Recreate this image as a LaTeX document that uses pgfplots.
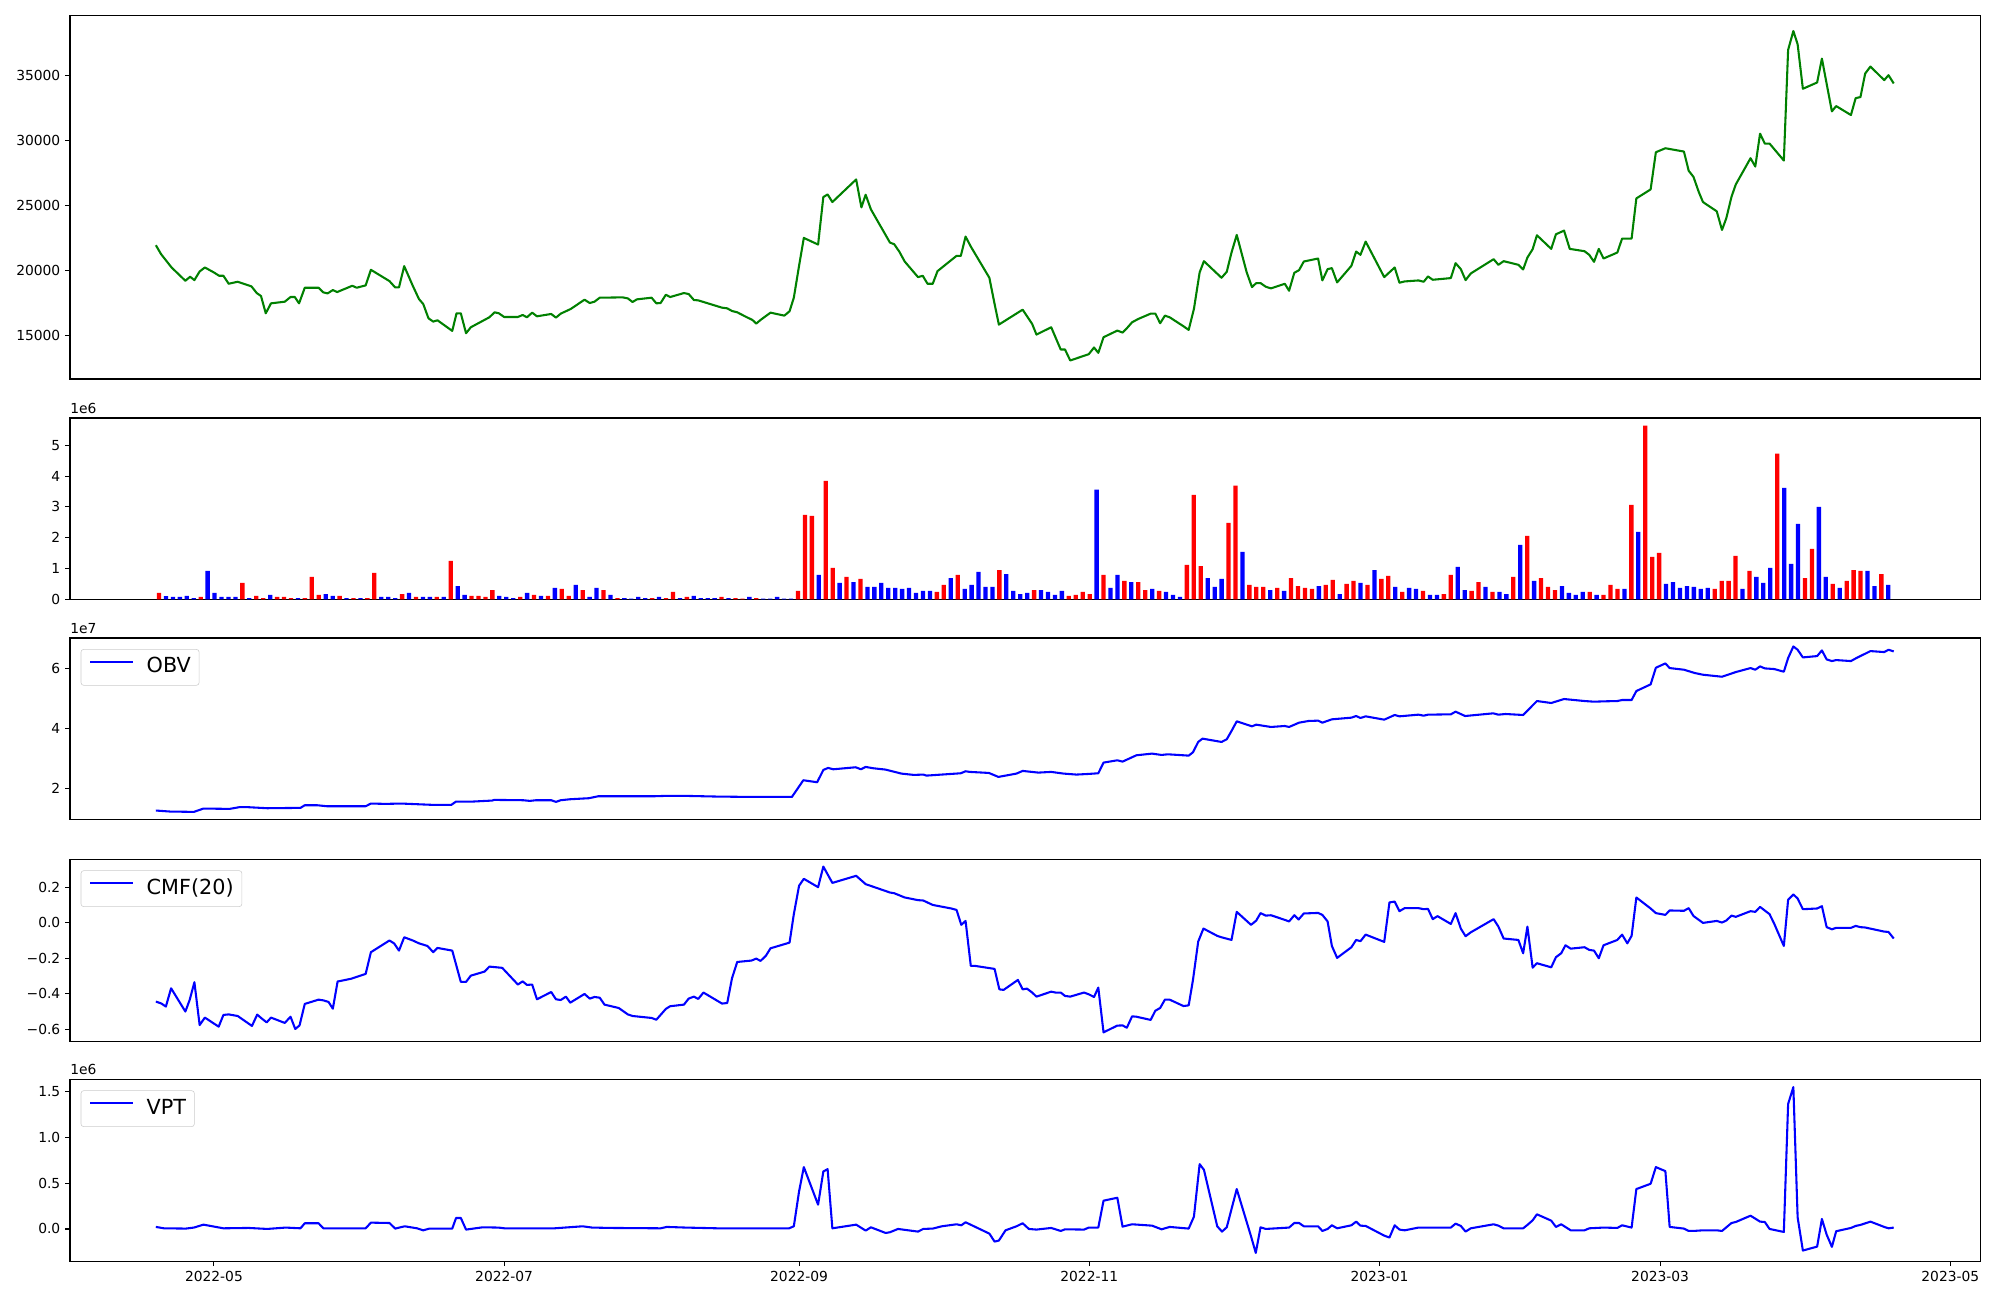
\documentclass[border=0pt]{standalone}
\usepackage{pgfplots}
\pgfplotsset{compat=1.18}
\usepackage{fontspec}
\setmainfont{DejaVu Sans}
\definecolor{mplgreen}{rgb}{0,0.502,0}
\definecolor{mplblue}{rgb}{0,0,1}
\definecolor{mplred}{rgb}{1,0,0}
\pgfplotsset{
  base/.style={
    scale only axis, width=1380.4pt,
    xmin=-30.25, xmax=371.25,
    scaled ticks=false,
    clip mode=individual,
    axis line style={line width=0.8pt},
    tick style={line width=0.8pt, black},
    major tick length=3.5pt,
    tick align=outside,
    ytick pos=left, xtick pos=left,
    /pgf/number format/assume math mode=true,
    tick label style={font=\fontsize{10}{12}\selectfont},
    xtick=\empty,
  },
  leg/.style={
    legend style={at={(rel axis cs:0.0056,0.939)}, anchor=north west,
      draw=black!20, rounded corners=2pt, fill=white, fill opacity=0.8, text opacity=1,
      font=\fontsize{15}{18}\selectfont, inner xsep=6pt, inner ysep=6pt,
      nodes={inner sep=0pt, text height=11pt, text depth=3pt},
      /tikz/every odd column/.append style={column sep=9pt}},
    legend image code/.code={\draw[##1] (0pt,4pt) -- (31pt,4pt);},
  },
}
\newcommand{\offs}[1]{\node[anchor=base west, inner sep=0pt, font=\fontsize{10}{12}\selectfont] at (rel axis cs:0,1) [yshift=3.1pt] {#1};}
\begin{document}
\begin{tikzpicture}
\useasboundingbox (0,0) rectangle (1445.4pt,939.5pt);
% ---------- Price ----------
\begin{axis}[base, at={(50.59pt,665.6pt)}, anchor=south west, height=262.9pt,
  ymin=11625, ymax=39675, ytick={15000,20000,25000,30000,35000},
  yticklabels={15000,20000,25000,30000,35000}]
\addplot[mplgreen, line width=1.5pt, line join=round, no markers] coordinates {
(-12.2,21939) (-11.1,21247) (-8.9,20223) (-6.0,19199) (-5.0,19506) (-4.1,19250) (-3.0,19916) (-1.9,20223)
(0.0,19839) (1.1,19583) (2.0,19583) (3.1,18968) (5.0,19122) (7.9,18763) (9.0,18251) (9.9,18021)
(10.9,16689) (12.0,17457) (14.9,17585) (16.1,17944) (17.0,17944) (17.9,17457) (19.1,18661) (22.0,18661)
(23.0,18302) (23.9,18225) (25.0,18482) (25.9,18328) (29.1,18814) (30.0,18661) (31.9,18840) (33.0,20044)
(36.9,19173) (38.1,18686) (38.9,18686) (40.0,20325) (41.8,18814) (43.1,17790) (44.0,17406) (45.1,16305)
(46.1,16049) (47.0,16151) (50.1,15332) (51.0,16689) (51.9,16689) (53.0,15152) (54.0,15613) (57.9,16382)
(59.0,16766) (59.9,16689) (61.0,16407) (63.9,16407) (64.9,16561) (65.8,16382) (66.9,16740) (67.9,16458)
(70.9,16638) (71.9,16356) (72.9,16663) (75.0,17022) (77.9,17739) (79.0,17483) (80.0,17585) (81.1,17893)
(85.9,17918) (87.0,17841) (88.0,17560) (88.9,17764) (92.0,17893) (93.0,17457) (93.9,17483) (95.0,18123)
(95.9,17944) (98.8,18251) (99.8,18174) (100.9,17713) (101.8,17688) (106.8,17124) (107.9,17073) (108.9,16868)
(110.0,16766) (111.9,16407) (113.2,16177) (114.0,15895) (114.9,16177) (117.0,16740) (119.9,16510) (121.0,16843)
(121.9,17893) (123.0,20351) (124.0,22502) (127.0,21990) (128.1,25652) (129.0,25857) (130.0,25268) (135.0,27010)
(136.1,24858) (137.0,25832) (138.1,24705) (142.1,22144) (143.0,22016) (144.1,21427) (145.2,20684) (148.0,19480)
(149.0,19583) (150.0,18968) (151.1,18968) (152.1,19941) (156.1,21119) (157.0,21119) (158.0,22605) (159.1,21836)
(163.0,19429) (164.1,17406) (165.0,15818) (170.0,16971) (172.0,15869) (172.9,15050) (176.0,15613) (178.0,13897)
(178.9,13897) (180.0,13052) (183.9,13539) (185.0,14051) (185.9,13641) (187.0,14845) (189.9,15357) (191.0,15203)
(191.9,15536) (193.0,15997) (194.3,16253) (196.9,16663) (197.9,16663) (198.9,15921) (199.9,16510) (200.9,16382)
(203.8,15690) (204.9,15408) (206.0,17022) (207.2,19839) (208.1,20710) (211.8,19429) (212.9,19890) (213.9,21375)
(215.0,22733) (217.1,19839) (218.2,18712) (219.1,19019) (220.0,19019) (221.1,18738) (222.2,18610) (225.1,18968)
(226.0,18430) (227.1,19813) (228.1,20018) (229.1,20684) (232.1,20914) (233.0,19224) (234.1,20095) (235.0,20172)
(236.1,19071) (239.1,20351) (240.1,21452) (241.0,21196) (242.1,22221) (246.0,19480) (248.2,20223) (249.2,19045)
(250.3,19147) (253.2,19224) (254.3,19122) (255.2,19532) (256.2,19275) (260.0,19404) (261.0,20556) (262.1,20095)
(263.1,19250) (264.2,19762) (269.0,20863) (270.0,20428) (271.1,20710) (274.2,20428) (275.2,20069) (276.1,20991)
(277.2,21632) (278.1,22707) (281.1,21657) (282.1,22784) (283.8,23066) (285.0,21657) (288.1,21478) (289.1,21196)
(290.1,20658) (291.1,21657) (292.1,20914) (295.0,21375) (296.0,22451) (298.0,22451) (299.0,25550) (302.0,26241)
(303.1,29110) (305.1,29417) (309.0,29161) (310.0,27676) (311.0,27215) (312.1,26062) (313.0,25268) (315.9,24551)
(317.0,23117) (317.9,24013) (319.0,25678) (319.9,26626) (323.0,28649) (324.0,28008) (325.0,30544) (326.0,29776)
(327.0,29776) (330.0,28469) (330.9,36998) (332.0,38457) (332.9,37433) (334.0,34001) (337.0,34488) (338.0,36332)
(339.0,34385) (340.1,32260) (341.0,32669) (344.1,31978) (345.1,33284) (346.1,33361) (347.1,35179) (348.2,35717)
(351.1,34667) (352.0,35051) (353.1,34411)
};
\end{axis}
% ---------- Volume (bars at evenly spaced positions 1..250) ----------
\begin{axis}[base, at={(50.59pt,506.4pt)}, anchor=south west, height=131pt,
  xmin=-11.82, xmax=263.21,
  ymin=0, ymax=5.89, ytick={0,1,2,3,4,5}, yticklabels={0,1,2,3,4,5}]
\offs{1e6}
\addplot[ybar, bar width=0.62, bar shift=0pt, fill=mplred, draw=none] coordinates {
(1,0.21) (7,0.08) (13,0.53) (15,0.11) (16,0.04) (18,0.08) (19,0.08) (20,0.04) (22,0.04) (23,0.73)
(24,0.14) (27,0.11) (29,0.04) (31,0.04) (32,0.86) (36,0.17) (38,0.08) (41,0.08) (43,1.25) (46,0.11)
(47,0.11) (48,0.08) (49,0.30) (53,0.08) (55,0.14) (57,0.11) (59,0.34) (60,0.11) (62,0.30) (65,0.30)
(67,0.04) (72,0.04) (74,0.04) (75,0.24) (77,0.08) (82,0.08) (84,0.04) (85,0.02) (87,0.04) (93,0.27)
(94,2.74) (95,2.71) (97,3.85) (98,1.02) (100,0.73) (102,0.66) (113,0.24) (114,0.47) (116,0.79) (122,0.95)
(127,0.30) (132,0.11) (133,0.14) (134,0.24) (135,0.17) (137,0.79) (140,0.60) (142,0.56) (143,0.30) (145,0.27)
(149,1.12) (150,3.39) (151,1.08) (155,2.48) (156,3.69) (158,0.47) (159,0.40) (160,0.40) (162,0.37) (164,0.69)
(165,0.43) (166,0.37) (167,0.34) (169,0.47) (170,0.63) (172,0.50) (173,0.60) (175,0.47) (177,0.66) (178,0.76)
(180,0.24) (183,0.27) (186,0.17) (187,0.79) (190,0.27) (191,0.56) (193,0.24) (196,0.73) (198,2.06) (200,0.69)
(201,0.40) (202,0.30) (207,0.24) (209,0.14) (210,0.47) (211,0.34) (213,3.07) (215,5.64) (216,1.38) (217,1.51)
(225,0.34) (226,0.60) (227,0.60) (228,1.41) (230,0.92) (234,4.73) (238,0.69) (239,1.64) (242,0.50) (244,0.60)
(245,0.95) (246,0.92) (249,0.82)
};
\addplot[ybar, bar width=0.62, bar shift=0pt, fill=mplblue, draw=none] coordinates {
(2,0.10) (3,0.08) (4,0.08) (5,0.11) (6,0.04) (8,0.92) (9,0.21) (10,0.08) (11,0.08) (12,0.08)
(14,0.04) (17,0.14) (21,0.04) (25,0.17) (26,0.11) (28,0.04) (30,0.04) (33,0.08) (34,0.08) (35,0.04)
(37,0.21) (39,0.08) (40,0.08) (42,0.08) (44,0.43) (45,0.14) (50,0.11) (51,0.08) (52,0.04) (54,0.21)
(56,0.11) (58,0.37) (61,0.47) (63,0.08) (64,0.37) (66,0.14) (68,0.04) (69,0.02) (70,0.08) (71,0.04)
(73,0.08) (76,0.04) (78,0.11) (79,0.04) (80,0.04) (81,0.04) (83,0.04) (86,0.08) (88,0.02) (89,0.02)
(90,0.08) (91,0.02) (92,0.02) (96,0.79) (99,0.53) (101,0.56) (103,0.40) (104,0.40) (105,0.53) (106,0.37)
(107,0.37) (108,0.34) (109,0.37) (110,0.21) (111,0.27) (112,0.27) (115,0.69) (117,0.34) (118,0.47) (119,0.89)
(120,0.40) (121,0.40) (123,0.82) (124,0.27) (125,0.17) (126,0.21) (128,0.30) (129,0.24) (130,0.14) (131,0.27)
(136,3.56) (138,0.37) (139,0.79) (141,0.56) (144,0.34) (146,0.24) (147,0.14) (148,0.08) (152,0.69) (153,0.40)
(154,0.66) (157,1.54) (161,0.30) (163,0.27) (168,0.43) (171,0.17) (174,0.53) (176,0.95) (179,0.40) (181,0.37)
(182,0.34) (184,0.14) (185,0.14) (188,1.05) (189,0.30) (192,0.40) (194,0.24) (195,0.17) (197,1.77) (199,0.60)
(203,0.43) (204,0.21) (205,0.14) (206,0.24) (208,0.14) (212,0.34) (214,2.19) (218,0.50) (219,0.56) (220,0.37)
(221,0.43) (222,0.40) (223,0.34) (224,0.37) (229,0.34) (231,0.73) (232,0.53) (233,1.02) (235,3.62) (236,1.15)
(237,2.45) (240,3.00) (241,0.73) (243,0.37) (247,0.92) (248,0.43) (250,0.47)
};
\end{axis}
% ---------- OBV ----------
\begin{axis}[base, leg, at={(50.59pt,347.4pt)}, anchor=south west, height=131pt,
  ymin=0.975, ymax=7.025, ytick={2,4,6}, yticklabels={2,4,6}]
\offs{1e7}
\addplot[mplblue, line width=1.5pt, line join=round, no markers] coordinates {
(-12.2,1.267) (-9.2,1.233) (-4.2,1.222) (-2.2,1.333) (3.3,1.322) (5.3,1.378) (7.3,1.378) (11.2,1.344)
(18.2,1.356) (19.1,1.444) (21.7,1.444) (23.7,1.411) (31.9,1.411) (33.0,1.500) (36.1,1.489) (39.4,1.500)
(46.0,1.456) (49.9,1.456) (50.9,1.567) (54.5,1.567) (58.5,1.600) (58.9,1.622) (65.0,1.611) (66.4,1.589)
(67.7,1.611) (70.9,1.611) (71.9,1.556) (72.9,1.611) (74.9,1.644) (78.8,1.678) (80.8,1.744) (92.6,1.744)
(95.0,1.756) (99.2,1.756) (105.8,1.733) (112.3,1.722) (121.5,1.722) (123.9,2.278) (126.8,2.211) (128.1,2.622)
(129.1,2.689) (130.2,2.644) (134.9,2.711) (136.0,2.644) (137.0,2.722) (138.6,2.678) (141.2,2.633) (144.5,2.500)
(147.1,2.456) (149.1,2.467) (149.8,2.433) (157.0,2.511) (158.0,2.578) (158.9,2.556) (162.9,2.522) (164.9,2.389)
(168.7,2.500) (170.0,2.589) (173.3,2.533) (176.0,2.556) (178.6,2.500) (181.3,2.467) (183.9,2.489) (185.9,2.511)
(187.0,2.867) (189.9,2.944) (191.0,2.900) (193.9,3.111) (197.2,3.167) (199.2,3.122) (200.5,3.144) (204.9,3.100)
(205.8,3.211) (206.9,3.556) (207.8,3.667) (211.8,3.556) (212.9,3.644) (213.9,3.922) (215.0,4.244) (218.2,4.078)
(219.1,4.133) (222.2,4.056) (225.1,4.089) (226.0,4.056) (228.1,4.200) (230.1,4.256) (232.1,4.267) (233.0,4.200)
(235.0,4.311) (239.1,4.367) (240.1,4.422) (241.0,4.356) (242.1,4.411) (246.0,4.300) (248.2,4.456) (249.2,4.411)
(253.2,4.467) (254.3,4.433) (255.2,4.467) (260.0,4.478) (261.0,4.567) (263.0,4.422) (268.9,4.511) (270.0,4.467)
(271.5,4.489) (275.2,4.456) (278.1,4.922) (281.1,4.856) (283.8,4.989) (288.1,4.922) (290.1,4.900) (292.1,4.911)
(295.0,4.922) (296.0,4.956) (298.0,4.956) (299.0,5.256) (302.0,5.478) (303.1,6.033) (305.1,6.178) (306.0,6.022)
(309.0,5.967) (311.3,5.856) (313.0,5.800) (317.0,5.733) (319.9,5.889) (323.0,6.022) (324.0,5.967) (325.0,6.078)
(326.0,6.011) (328.0,5.989) (330.0,5.900) (330.9,6.356) (332.0,6.744) (332.9,6.633) (334.0,6.378) (337.0,6.422)
(338.0,6.611) (339.0,6.311) (340.1,6.256) (341.0,6.289) (344.1,6.256) (345.1,6.344) (348.2,6.589) (351.1,6.556)
(352.0,6.633) (353.1,6.578)
};
\addlegendentry{OBV}
\end{axis}
% ---------- CMF ----------
\begin{axis}[base, leg, at={(50.59pt,187.0pt)}, anchor=south west, height=131.5pt,
  ymin=-0.667, ymax=0.357, ytick={-0.6,-0.4,-0.2,0,0.2}, yticklabels={−0.6,−0.4,−0.2,0.0,0.2}]
\addplot[mplblue, line width=1.5pt, line join=round, no markers] coordinates {
(-12.2,-0.444) (-11.1,-0.454) (-10.1,-0.472) (-9.0,-0.369) (-6.0,-0.500) (-5.1,-0.435) (-4.1,-0.335) (-3.0,-0.576)
(-1.9,-0.534) (1.0,-0.585) (2.0,-0.519) (3.1,-0.516) (5.0,-0.525) (8.0,-0.581) (9.1,-0.517) (10.0,-0.538)
(11.1,-0.561) (12.0,-0.534) (14.9,-0.564) (16.1,-0.529) (17.1,-0.598) (18.0,-0.578) (19.1,-0.457) (22.0,-0.433)
(23.0,-0.437) (24.1,-0.446) (25.0,-0.484) (26.0,-0.331) (28.9,-0.315) (31.9,-0.288) (33.0,-0.166) (36.9,-0.100)
(37.9,-0.117) (38.9,-0.157) (40.0,-0.082) (41.8,-0.100) (43.1,-0.116) (44.9,-0.131) (46.1,-0.166) (47.0,-0.142)
(50.1,-0.157) (51.9,-0.333) (53.0,-0.333) (54.0,-0.298) (56.9,-0.275) (57.9,-0.247) (60.6,-0.254) (63.9,-0.348)
(64.9,-0.330) (65.8,-0.350) (66.9,-0.348) (67.9,-0.431) (70.9,-0.390) (71.9,-0.431) (72.9,-0.435) (74.0,-0.416)
(74.9,-0.450) (77.9,-0.401) (79.0,-0.427) (80.0,-0.418) (81.1,-0.422) (82.1,-0.461) (85.1,-0.480) (87.0,-0.516)
(88.0,-0.525) (92.0,-0.536) (93.0,-0.546) (95.0,-0.485) (95.9,-0.470) (98.8,-0.461) (99.8,-0.427) (100.9,-0.416)
(101.8,-0.429) (102.9,-0.393) (106.8,-0.455) (107.9,-0.452) (108.9,-0.313) (110.0,-0.221) (113.0,-0.213) (114.0,-0.202)
(114.9,-0.215) (116.0,-0.187) (117.0,-0.144) (121.0,-0.112) (121.9,0.048) (123.0,0.208) (124.0,0.247) (127.0,0.200)
(128.1,0.316) (130.0,0.224) (135.0,0.264) (137.0,0.217) (142.1,0.170) (143.0,0.166) (145.2,0.142) (148.0,0.127)
(149.1,0.125) (151.1,0.100) (155.0,0.080) (156.1,0.072) (157.1,-0.012) (158.0,0.010) (159.1,-0.243) (160.0,-0.243)
(164.1,-0.260) (165.1,-0.375) (166.0,-0.378) (169.0,-0.322) (170.0,-0.375) (170.9,-0.371) (172.0,-0.393) (172.9,-0.416)
(176.0,-0.388) (176.9,-0.393) (178.0,-0.393) (178.9,-0.412) (180.0,-0.416) (182.9,-0.393) (183.9,-0.403) (185.0,-0.418)
(185.9,-0.365) (187.0,-0.617) (189.9,-0.579) (191.0,-0.578) (191.9,-0.591) (193.0,-0.527) (193.9,-0.529) (196.9,-0.547)
(197.9,-0.495) (198.9,-0.480) (199.9,-0.433) (200.9,-0.433) (203.8,-0.469) (204.9,-0.465) (205.8,-0.322) (206.9,-0.106)
(208.0,-0.033) (210.9,-0.074) (211.8,-0.082) (213.9,-0.097) (215.0,0.061) (218.0,-0.012) (219.1,0.012) (220.0,0.054)
(221.1,0.040) (222.2,0.042) (225.1,0.016) (226.0,0.007) (227.1,0.042) (228.0,0.018) (229.1,0.052) (232.1,0.055)
(233.0,0.044) (234.1,0.007) (235.0,-0.131) (236.1,-0.198) (239.1,-0.138) (240.1,-0.097) (241.0,-0.104) (242.1,-0.067)
(246.0,-0.108) (247.1,0.114) (248.2,0.119) (249.2,0.065) (250.3,0.082) (253.2,0.082) (254.3,0.076) (255.2,0.078)
(256.2,0.020) (257.2,0.037) (260.0,-0.007) (261.0,0.054) (262.1,-0.033) (263.1,-0.076) (264.2,-0.054) (269.0,0.020)
(270.0,-0.022) (271.1,-0.089) (274.2,-0.097) (275.2,-0.172) (276.1,-0.022) (277.2,-0.253) (278.1,-0.228) (281.1,-0.251)
(282.1,-0.194) (283.2,-0.172) (284.1,-0.127) (285.2,-0.146) (288.1,-0.138) (289.1,-0.153) (290.1,-0.157) (291.1,-0.200)
(292.1,-0.127) (295.0,-0.097) (296.0,-0.067) (297.1,-0.116) (298.0,-0.074) (299.0,0.142) (302.0,0.080) (303.1,0.054)
(305.1,0.044) (306.0,0.069) (309.0,0.067) (310.0,0.082) (311.0,0.038) (313.0,-0.001) (315.9,0.010) (317.0,0.001)
(317.9,0.012) (319.0,0.040) (319.9,0.033) (323.0,0.065) (324.0,0.061) (325.0,0.089) (327.0,0.048) (328.0,-0.007)
(330.0,-0.131) (330.9,0.129) (332.0,0.159) (332.9,0.136) (334.0,0.076) (337.0,0.080) (338.0,0.093) (339.0,-0.025)
(340.1,-0.037) (341.0,-0.029) (344.1,-0.029) (345.1,-0.018) (346.1,-0.025) (347.1,-0.027) (351.1,-0.050) (352.0,-0.052)
(353.1,-0.089)
};
\addlegendentry{CMF(20)}
\end{axis}
% ---------- VPT ----------
\begin{axis}[base, leg, at={(50.59pt,28.0pt)}, anchor=south west, height=131.5pt,
  ymin=-0.353, ymax=1.636, ytick={0,0.5,1,1.5}, yticklabels={0.0,0.5,1.0,1.5},
  xtick={0,61,123,184,245,304,365},
  xticklabels={2022-05,2022-07,2022-09,2022-11,2023-01,2023-03,2023-05}]
\offs{1e6}
\addplot[mplblue, line width=1.5pt, line join=round, no markers] coordinates {
(-12.2,0.022) (-10.5,0.007) (-5.9,0.004) (-4.2,0.015) (-2.2,0.047) (2.0,0.007) (7.3,0.011) (11.2,0.000)
(15.1,0.015) (18.2,0.007) (19.1,0.062) (22.0,0.062) (23.0,0.007) (31.9,0.007) (33.0,0.069) (36.9,0.065)
(38.1,0.004) (40.1,0.029) (42.7,0.007) (44.0,-0.015) (45.3,0.004) (50.1,0.004) (50.9,0.120) (51.9,0.120)
(53.0,-0.007) (56.5,0.018) (59.8,0.015) (61.1,0.007) (71.6,0.007) (77.5,0.029) (79.5,0.015) (83.4,0.011)
(93.9,0.007) (95.2,0.022) (99.2,0.015) (105.8,0.007) (112.3,0.007) (120.9,0.007) (121.9,0.029) (123.0,0.410)
(124.0,0.676) (127.0,0.265) (128.1,0.628) (129.0,0.654) (130.0,0.007) (135.0,0.047) (137.0,-0.018) (138.1,0.018)
(141.2,-0.044) (142.1,-0.036) (143.8,0.000) (148.0,-0.029) (149.1,0.000) (151.1,0.004) (153.0,0.029) (156.1,0.051)
(157.1,0.040) (158.0,0.073) (163.0,-0.051) (164.1,-0.138) (165.0,-0.127) (166.4,-0.015) (168.7,0.029) (170.0,0.062)
(171.3,0.000) (172.9,-0.007) (176.0,0.011) (178.0,-0.022) (178.9,-0.004) (182.9,-0.007) (183.9,0.015) (185.9,0.015)
(187.0,0.309) (189.9,0.341) (191.0,0.025) (193.0,0.051) (197.2,0.036) (199.2,-0.004) (200.9,0.022) (204.9,0.004)
(206.0,0.134) (207.2,0.708) (208.1,0.647) (210.9,0.029) (211.9,-0.029) (212.9,0.018) (215.0,0.436) (218.0,-0.080)
(219.0,-0.262) (220.0,0.018) (221.1,0.000) (226.0,0.015) (227.1,0.065) (228.1,0.065) (229.1,0.029) (232.1,0.029)
(233.0,-0.022) (234.1,0.000) (235.0,0.040) (236.1,0.007) (239.1,0.040) (240.1,0.080) (241.0,0.036) (242.1,0.033)
(246.0,-0.073) (247.1,-0.094) (248.2,0.040) (249.2,-0.007) (250.3,-0.015) (253.2,0.015) (260.0,0.015) (261.0,0.058)
(262.1,0.033) (263.1,-0.029) (264.2,0.007) (269.0,0.051) (270.0,0.036) (271.1,0.007) (275.2,0.007) (276.1,0.044)
(277.2,0.094) (278.1,0.160) (281.1,0.091) (282.1,0.022) (283.2,0.051) (285.2,-0.015) (288.1,-0.015) (289.1,0.007)
(292.1,0.015) (295.0,0.011) (296.0,0.040) (298.0,0.015) (299.0,0.436) (302.0,0.494) (303.1,0.676) (305.1,0.632)
(306.0,0.022) (309.0,0.004) (310.0,-0.022) (311.0,-0.022) (313.0,-0.015) (315.9,-0.015) (317.0,-0.022) (319.0,0.065)
(319.9,0.076) (323.0,0.145) (325.0,0.080) (326.0,0.076) (327.0,0.000) (330.0,-0.033) (330.9,1.366) (332.0,1.551)
(332.9,0.127) (334.0,-0.236) (337.0,-0.193) (338.0,0.109) (339.0,-0.062) (340.1,-0.196) (341.0,-0.025) (344.1,0.011)
(345.1,0.033) (346.1,0.044) (348.2,0.080) (351.1,0.022) (352.0,0.007) (353.1,0.015)
};
\addlegendentry{VPT}
\end{axis}
\end{tikzpicture}
\end{document}
